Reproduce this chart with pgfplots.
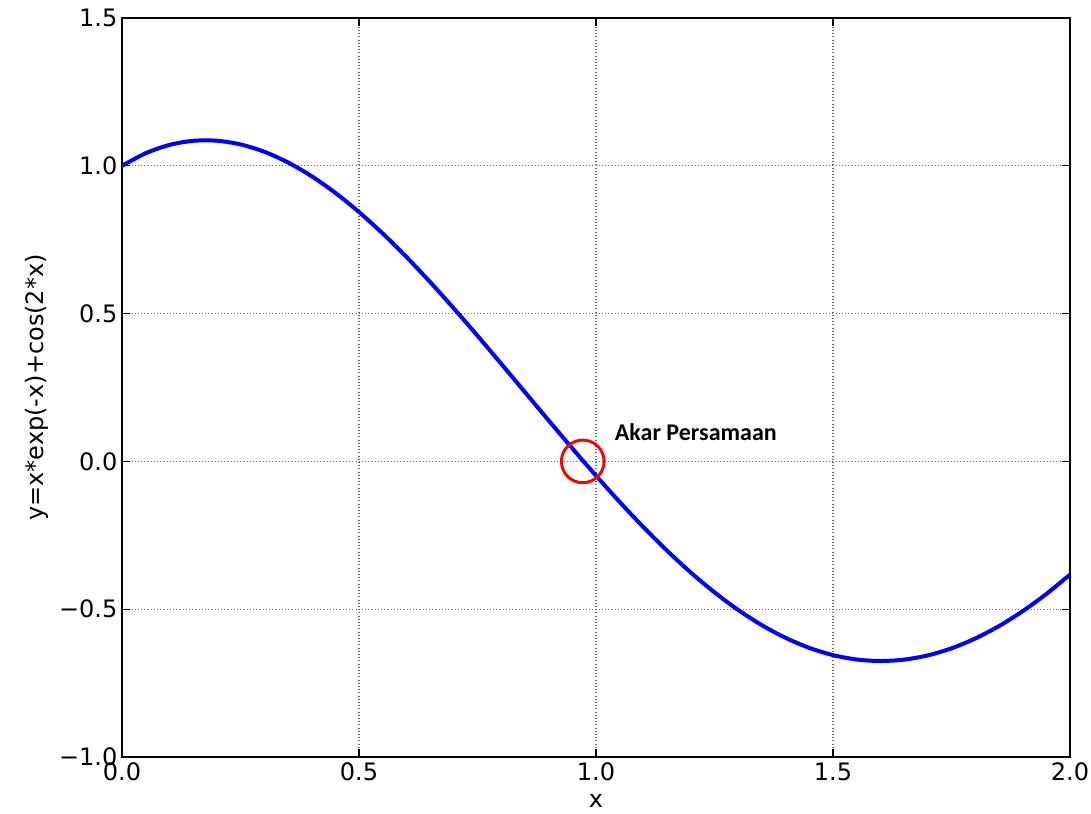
\documentclass[border=0pt]{standalone}
\usepackage{pgfplots}
\pgfplotsset{compat=1.18}
\usepackage{fontspec}
\setmainfont{DejaVu Sans}
\newfontfamily\annfont{Carlito}
\begin{document}
\begin{tikzpicture}
\useasboundingbox (-91.5pt,-42pt) rectangle (726.75pt,567.75pt);
\begin{axis}[
  at={(0,0)}, anchor=south west,
  scale only axis, width=711pt, height=554.25pt,
  xmin=0, xmax=2, ymin=-1, ymax=1.5,
  xtick={0,0.5,1,1.5,2}, ytick={-1,-0.5,0,0.5,1,1.5},
  xticklabels={0.0,0.5,1.0,1.5,2.0},
  yticklabels={−1.0,−0.5,0.0,0.5,1.0,1.5},
  tick align=inside, major tick length=6pt,
  tick style={black, line width=0.8pt},
  axis line style={black, line width=1pt},
  grid=major, grid style={black!60, dotted, line width=0.9pt},
  ticklabel style={font=\fontsize{18}{20}\selectfont},
  xticklabel style={yshift=-1pt},
  label style={font=\fontsize{18}{20}\selectfont},
  xlabel={x}, ylabel={y=x*exp(-x)+cos(2*x)},
  xlabel style={yshift=-3pt},
  ylabel style={yshift=1pt},
  clip=false,
]
\addplot[blue, line width=3pt, smooth] coordinates {
(0,1.0) (0.05,1.04256) (0.1,1.07055) (0.15,1.08444) (0.2,1.08481) (0.25,1.07228)
(0.3,1.04758) (0.35,1.01148) (0.4,0.96484) (0.45,0.90854) (0.5,0.84357)
(0.55,0.77092) (0.6,0.69165) (0.65,0.60683) (0.7,0.51758) (0.75,0.42501)
(0.8,0.33026) (0.85,0.23446) (0.9,0.13871) (0.95,0.04411) (1.0,-0.04827)
(1.05,-0.13741) (1.1,-0.22234) (1.15,-0.30214) (1.2,-0.37596) (1.25,-0.44301)
(1.3,-0.50260) (1.35,-0.55410) (1.4,-0.59699) (1.45,-0.63083) (1.5,-0.65530)
(1.55,-0.67015) (1.6,-0.67526) (1.65,-0.67060) (1.7,-0.65624) (1.75,-0.63235)
(1.8,-0.59922) (1.85,-0.55721) (1.9,-0.50679) (1.95,-0.44850) (2.0,-0.38297)
};
\addplot[only marks, mark=o, mark size=16pt, red, line width=2.2pt] coordinates {(0.972,0)};
\node[anchor=base west, font=\annfont\bfseries\fontsize{18}{20}\selectfont] at (axis cs:1.03,0.07) {Akar Persamaan};
\end{axis}
\end{tikzpicture}
\end{document}
